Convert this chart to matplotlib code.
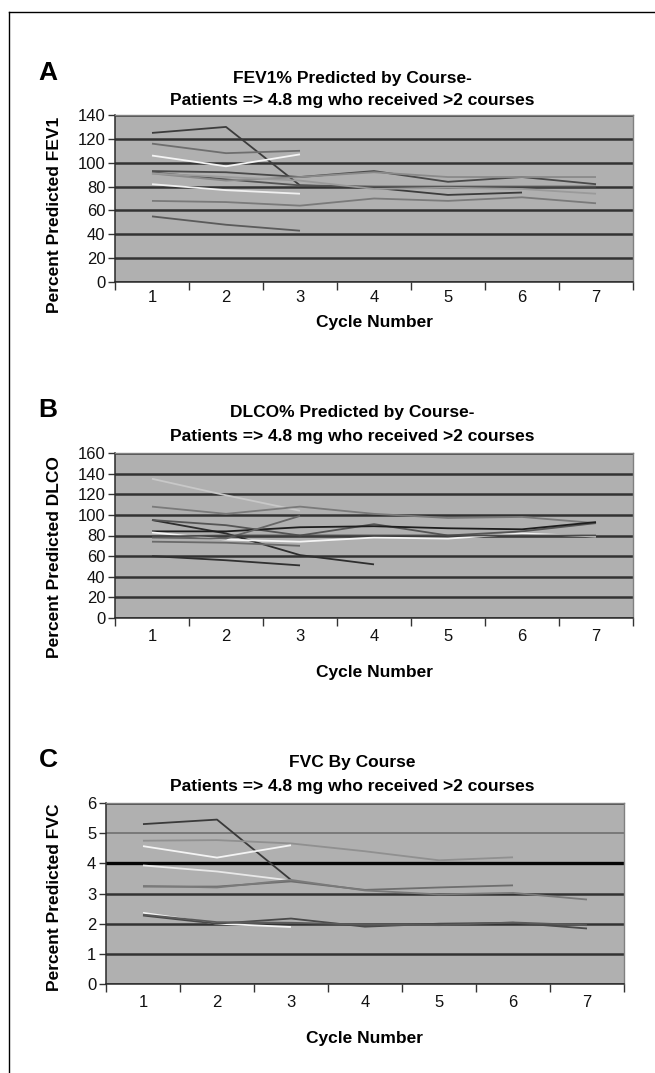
import numpy as np
import matplotlib
matplotlib.use("Agg")
import matplotlib.pyplot as plt
from matplotlib.lines import Line2D

plt.rcParams['font.family'] = ['Liberation Sans', 'DejaVu Sans']

nan = np.nan
cycles = [1, 2, 3, 4, 5, 6, 7]
cycle_labels = ["1", "2", "3", "4", "5", "6", "7"]

# Panel A: FEV1 % predicted
fev1_series = [
    [125, 130, 81, 79, 73, 75, nan],
    [116, 108, 110, nan, nan, nan, nan],
    [106, 97, 107, nan, nan, nan, nan],
    [93, 92, 88, 93, 84, 88, 82],
    [92, 86, 81, 80, 80, 80, 80],
    [91, 85, 88, 92, 88, 88, 88],
    [82, 77, 74, nan, nan, nan, nan],
    [91, 88, 85, 78, 79, 78, 74],
    [68, 67, 64, 70, 68, 71, 66],
    [55, 48, 43, nan, nan, nan, nan],
]
fev1_colors = ['#3c3c3c', '#6e6e6e', '#f4f4f4', '#4a4a4a', '#555555',
               '#8a8a8a', '#f0f0f0', '#9a9a9a', '#7a7a7a', '#5a5a5a']

# Panel B: DLCO % predicted
dlco_series = [
    [135, 119, 104, nan, nan, nan, nan],
    [108, 101, 108, 101, 97, 98, 92],
    [95, 82, 61, 52, nan, nan, nan],
    [95, 90, 80, 91, 80, 84, 92],
    [84, 84, 88, 89, 87, 86, 93],
    [83, 76, 74, 78, 77, 82, 79],
    [74, 73, 70, nan, nan, nan, nan],
    [60, 56, 51, nan, nan, nan, nan],
    [78, 77, 99, nan, nan, nan, nan],
    [79, 80, 80, 80, 80, 80, 80],
]
dlco_colors = ['#c8c8c8', '#7a7a7a', '#2e2e2e', '#555555', '#1e1e1e',
               '#f4f4f4', '#6a6a6a', '#303030', '#666666', '#4a4a4a']

# Panel C: FVC
fvc_series = [
    [5.3, 5.45, 3.45, nan, nan, nan, nan],
    [4.75, 4.77, 4.66, 4.4, 4.1, 4.2, nan],
    [4.57, 4.19, 4.6, nan, nan, nan, nan],
    [3.93, 3.73, 3.43, nan, nan, nan, nan],
    [3.23, 3.23, 3.4, 3.12, 3.2, 3.27, nan],
    [3.25, 3.2, 3.45, 3.1, 2.97, 3.02, 2.8],
    [2.36, 2.0, 1.89, nan, nan, nan, nan],
    [2.27, 2.0, 2.17, 1.9, 2.0, 2.03, 1.84],
    [2.3, 2.05, 2.03, 1.97, 1.95, 2.04, 1.95],
]
fvc_colors = ['#3a3a3a', '#909090', '#f4f4f4', '#e8e8e8', '#6e6e6e',
              '#7a7a7a', '#f4f4f4', '#4a4a4a', '#5a5a5a']

W, H = 655, 1073
fig = plt.figure(figsize=(W / 100, H / 100), dpi=100)


def fx(px):
    return px / W


def fy(py):
    return 1 - py / H


# outer frame (top + left)
fig.add_artist(Line2D([fx(9), fx(655)], [fy(12), fy(12)], color='black', lw=1.0))
fig.add_artist(Line2D([fx(9), fx(9)], [fy(12), fy(1073)], color='black', lw=1.0))

panels = [
    dict(letter='A', t1='FEV1% Predicted by Course-', series=fev1_series,
         colors=fev1_colors, ylabel='Percent Predicted FEV1',
         box=(115, 633, 115, 282), ymax=140, ystep=20,
         letter_y=73, t1_y=78, t2_y=100, ylab_y=215, xlab_y=322, xpad=6.0),
    dict(letter='B', t1='DLCO% Predicted by Course-', series=dlco_series,
         colors=dlco_colors, ylabel='Percent Predicted DLCO',
         box=(115, 633, 453, 618), ymax=160, ystep=20,
         letter_y=410, t1_y=412, t2_y=436, ylab_y=557, xlab_y=672, xpad=8.0),
    dict(letter='C', t1='FVC By Course', series=fvc_series,
         colors=fvc_colors, ylabel='Percent Predicted FVC',
         box=(106, 624, 803, 984), ymax=6, ystep=1,
         letter_y=760, t1_y=762, t2_y=786, ylab_y=897, xlab_y=1038, xpad=8.0),
]

t2 = 'Patients => 4.8 mg who received >2 courses'

for p in panels:
    l, r, t, b = p['box']
    ax = fig.add_axes([fx(l), fy(b), (r - l) / W, (b - t) / H])
    ax.set_facecolor('#b0b0b0')
    yt = np.arange(0, p['ymax'] + p['ystep'] / 2, p['ystep'])
    ax.set_ylim(0, p['ymax'])
    ax.set_yticks(yt)
    ax.set_yticklabels([f"{int(v)}" for v in yt])
    ax.set_xlim(0.5, 7.5)
    ax.set_xticks(cycles)
    ax.set_xticklabels(cycle_labels)
    ax.set_xticks(np.arange(0.5, 8.0, 1.0), minor=True)
    ax.tick_params(axis='x', which='major', length=0, pad=p['xpad'],
                   labelsize=12, colors='#111111')
    ax.tick_params(axis='x', which='minor', length=6, width=1.0, color='#333333')
    ax.tick_params(axis='y', which='major', length=5, width=1.0, color='#333333',
                   pad=2, labelsize=12, labelcolor='#111111')
    ax.yaxis.grid(True, color='#333333', lw=1.8)
    ax.set_axisbelow(True)
    for s in ['left', 'bottom']:
        ax.spines[s].set_color('#2a2a2a')
        ax.spines[s].set_linewidth(1.1)
    for s in ['top', 'right']:
        ax.spines[s].set_color('#808080')
        ax.spines[s].set_linewidth(1.0)
    if p['letter'] == 'C':
        gls = ax.get_ygridlines()
        gls[4].set_color('#050505')
        gls[4].set_linewidth(2.4)
        gls[5].set_color('#707070')
        gls[5].set_linewidth(1.2)
    for vals, c in zip(p['series'], p['colors']):
        ax.plot(cycles, vals, color=c, lw=1.3, solid_capstyle='butt', zorder=3)

    fig.text(fx(48), fy(p['letter_y']), p['letter'], fontsize=19, fontweight='bold',
             ha='center', va='center')
    fig.text(fx(352), fy(p['t1_y']), p['t1'], fontsize=12.5, fontweight='bold',
             ha='center', va='center')
    fig.text(fx(352), fy(p['t2_y']), t2, fontsize=12.5, fontweight='bold',
             ha='center', va='center')
    fig.text(fx(55), fy(p['ylab_y']), p['ylabel'], fontsize=12.5, fontweight='bold',
             ha='center', va='center', rotation=90)
    fig.text(fx((l + r) / 2), fy(p['xlab_y']), 'Cycle Number', fontsize=12.5,
             fontweight='bold', ha='center', va='center')

fig.savefig('out.png', dpi=100, facecolor='white')
